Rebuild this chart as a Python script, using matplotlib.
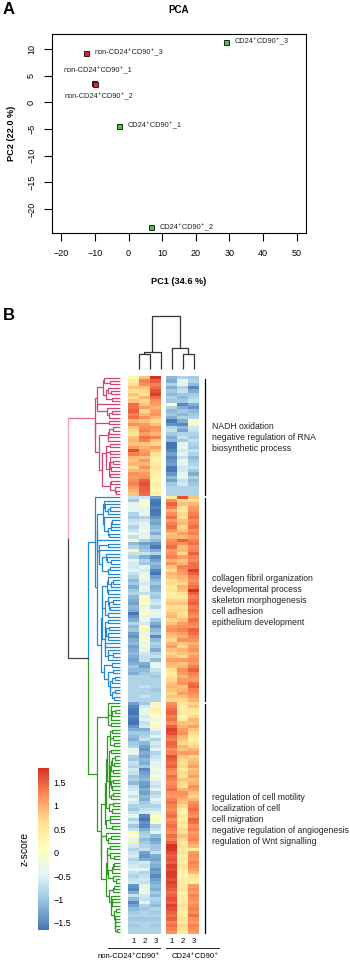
import numpy as np
import matplotlib
matplotlib.use('Agg')
import matplotlib.pyplot as plt
import matplotlib.transforms as mtransforms
from matplotlib.colors import LinearSegmentedColormap
from matplotlib.collections import LineCollection

plt.rcParams['font.family'] = ['Liberation Sans', 'DejaVu Sans']

# ---------------- panel A: PCA ----------------
pca_samples = ['non-CD24⁺CD90⁺_1', 'non-CD24⁺CD90⁺_2', 'non-CD24⁺CD90⁺_3',
               'CD24⁺CD90⁺_1', 'CD24⁺CD90⁺_2', 'CD24⁺CD90⁺_3']
pca_pc1 = [-10.3, -10.1, -12.6, -2.8, 6.7, 29.0]
pca_pc2 = [3.7, 3.4, 9.3, -4.4, -23.4, 11.3]
pca_is_cd24 = [False, False, False, True, True, True]
pca_label_side = ['above', 'below', 'right', 'right', 'right', 'right']
pc1_var = 34.6
pc2_var = 22.0

# ---------------- panel B: heatmap (z-scores, rows top to bottom) ----------------
group_sizes = [36, 62, 70]
group_colors = ['#d6457a', '#1f88d8', '#2e9a22']
group_terms = [
    ['NADH oxidation', 'negative regulation of RNA', 'biosynthetic process'],
    ['collagen fibril organization', 'developmental process', 'skeleton morphogenesis',
     'cell adhesion', 'epithelium development'],
    ['regulation of cell motility', 'localization of cell', 'cell migration',
     'negative regulation of angiogenesis', 'regulation of Wnt signalling'],
]

non_1 = [
    # pink
    0.2, 0.45, 0.6, 0.85, 0.6, 0.85, 0.7, 0.85, 1.4, 1.4, 1.5, 1.3, 1.4, 0.95, 1.2, 0.85, 0.7,
    0.6, 0.85, 0.95, 0.85, 1.1, 1.6, 1.3, 0.95, 0.85, 0.95, 0.7, 0.95, 1.2, 1.1, 1.2, 1.3, 1.1,
    0.95, 0.85,
    # blue
    -0.7, -0.95, -0.45, -0.35, -0.45, -0.85, -0.95, -0.7, -0.6, -0.85, -0.7, -0.45, -0.7, 0.2,
    -1.1, -0.85, 0.2, -0.7, -0.85, -0.45, -0.6,
    -0.6, -0.45, -0.7, -0.85, -1.1, -0.95, -1.2, -0.95, -0.85, -1.1, -1.2, -1.3, -1.1, -1.2,
    -1.7, -1.4, -1.2, -0.85, -1.1, -0.95, -1.3, -1.4, -1.2, -1.1, -1.3, -1.2, -1.1, -1.2,
    -1.3, -1.2, -0.95, -1.1, -1.2, -0.85, -0.85, -0.85, -0.85, -0.85, -0.85, -0.85, -0.85,
    # green
    -1.3, -1.5, -1.6, -1.7, -1.5, -1.6, -1.7, -1.4, -1.2, -0.95, -1.1, -1.2, -0.95, -0.85,
    -0.45, -0.35,
    -0.85, -0.95, -0.7, -0.85, -0.6, -0.7, -0.95, -0.85, -1.1, -0.7, -0.6, -0.45, -0.7, -0.35,
    -0.6, -0.85, -0.95, -0.7, -0.45, -0.85, -0.6, -0.95, -0.7, 0.2, 0.0, -0.45, 0.35, -0.6,
    -0.85, -0.7, -0.6, -0.85, -0.7, -0.6, -0.45, -0.7, -0.85, -0.7, -0.6, -1.4, -1.5, -1.2,
    -0.7, -1.1, -1.5, -1.3, -1.1, -0.95, -0.85, -0.95, -0.85, -0.95, -0.85, -0.85,
]
non_2 = [
    0.85, 1.3, 1.2, 0.85, 0.7, 0.6, 0.95, 0.7, 0.85, 1.1, 0.7, 0.95, 1.2, 0.85, 1.1, 1.2, 1.3,
    1.1, 1.4, 1.3, 0.85, 0.95, 1.1, 1.2, 0.85, 1.1, 0.95, 1.2, 0.95, 1.1, 1.2, 1.5, 1.6, 1.5,
    1.5, 1.4,
    -0.6, -0.2, 0.0, -0.35, -0.45, -0.35, -0.85, -0.6, -0.35, -0.45, -0.2, -0.45, -0.35, -0.85,
    -1.3, -1.1, -0.95, -0.7, -1.2, -0.85, -0.95,
    -0.45, -0.6, -0.35, -0.2, -0.45, -0.6, -0.35, -0.45, -0.7, 0.0, 0.2, 0.0, -0.35, -0.2, 0.0,
    -0.45, -0.35, -0.6, 0.0, 0.2, -0.35, -0.2, 0.0, -0.45, 0.2, -0.35, -0.6, -0.7,
    -0.7, -1.2, -1.3, -1.1, -0.95, -0.85, -0.85, -0.85, -0.7, -0.85, -0.85, -0.7, -0.85,
    -0.95, -0.6, -0.45, -0.35, -0.6, -0.45, -0.7, -0.6, -1.2, -0.95, -0.85, -0.7, -1.1, -1.3,
    -1.4, -1.2,
    -1.3, -1.1, -1.2, -0.95, -1.5, -1.3, -1.2, -1.1, -1.3, -1.4, -1.2, -1.3, -1.1, -1.2, -0.95,
    -0.85, -0.7, -0.6, -1.5, -1.7, -1.4, -1.5, -1.2, -0.95, -0.85, -1.1, -0.95, -0.85,
    -0.7, -1.3, -1.4, -1.2, -0.6, -0.7, -0.45, -0.85, -0.7, -0.6, -0.7, -0.45, -0.2, -0.35,
    -0.6, -0.7, -0.45, -0.85, -0.95, -0.85, -0.85, -0.95, -0.85, -0.85, -0.85, -0.85,
]
non_3 = [
    1.8, 1.5, 1.3, 1.4, 1.6, 1.7, 1.4, 1.2, 1.1, 0.95, 1.1, 1.2, 0.95, 0.7, 0.85, 1.2, 1.1,
    0.95, 1.3, 0.85, 0.7, 1.1, 0.85, 0.6, 0.45, 0.35, 0.45, 0.6, 0.45, 0.35, 0.35, 0.2, 0.35,
    0.35, 0.2, 0.35,
    -1.3, -1.6, -1.7, -1.5, -1.75, -1.6, -1.4, -1.2, -1.3, -1.1, -0.95, -1.2, -0.85, -1.1, -1.4,
    -1.6, -1.2, -0.85, -1.5, -1.3, -1.1,
    -1.2, -1.5, -1.75, -1.3, -1.1, -0.95, -1.2, -1.1, -0.85, -0.95, -0.7, -0.6, -0.85, -0.45,
    -0.35, -0.45, -0.95, -1.2, -1.4, -1.1, -0.95, -1.5, -1.1, -0.85, -0.95, -1.2, -0.85, -0.7,
    -1.1, -0.45, -0.35, -0.7, -0.85, -0.95, -0.85, -0.85, -0.85, -0.95, -0.85, -0.85, -0.85,
    0.2, -0.2, 0.35, 0.2, 0.0, -0.35, 0.0, 0.2, -0.45, -0.7, -0.45, -0.85, -0.6, -0.7, -0.45,
    -0.85,
    -0.7, -0.6, -0.45, -0.35, -0.2, -0.45, 0.0, -0.35, -0.6, -0.7, -0.45, -0.85, -0.7, -0.45,
    -0.6, -0.85, -0.7, -0.35, 0.0, 0.2, -0.2, -0.85, -0.7, -0.45, -1.1, -1.3, -1.2, -0.95,
    -0.95, -0.7, -1.2, -1.3, -1.1, -1.2, -1.4, -1.3, -1.5, -1.3, -1.2, -1.1, -1.2, -0.95, -1.1,
    -0.85, -0.95, -1.1, -0.85, -0.95, -0.85, -0.95, -0.85, -0.95, -0.85, -0.85,
]
cd24_1 = [
    -1.1, -1.2, -0.85, -1.2, -0.95, -1.1, -0.85, -0.95, 0.0, -0.85, -1.1, -0.95, -1.2, -1.6,
    -1.4, -0.85, -0.7, -0.95, -1.2, -1.1, -1.7, -1.75, -1.5, -1.3, -1.5, -1.4, -1.3, -1.6, -1.6,
    -1.4, -1.1, -1.3, -0.95, -0.85, -0.85, -0.85,
    0.45, 1.2, 1.5, 1.3, 0.95, 1.2, 1.4, 1.1, 1.3, 1.4, 1.2, 0.85, 0.95, 1.2, 1.3, 1.4, 1.1,
    1.2, 1.3, 0.95, 1.2,
    0.85, 0.7, 0.95, 0.85, 0.6, 0.7, 0.45, 0.6, 0.35, 0.45, 0.7, 0.85, 0.6, 0.7, 0.85, 0.95,
    0.7, 0.85, 1.1, 1.2, 0.95, 0.85, 0.7, 0.95, 1.1, 0.85, 0.7, 0.85,
    1.1, 0.95, 0.85, 0.6, 0.45, 0.6, 0.7, 0.85, 0.95, 0.85, 0.7, 0.85, 0.7,
    1.2, 1.3, 1.4, 1.5, 1.3, 1.4, 1.2, 1.5, 1.7, 1.6, 1.4, 1.3, 1.5, 1.4, 1.2, 1.3,
    1.6, 1.5, 1.4, 1.5, 1.3, 1.2, 1.4, 1.3, 1.2, 1.3, 1.4, 1.2, 1.1, 1.3, 1.4, 1.3, 1.2, 1.3,
    1.4, 1.2, 1.3, 1.4, 1.3, 1.2, 1.4, 1.3, 1.5, 1.8,
    1.75, 1.6, 1.5, 1.6, 1.5, 1.7, 1.6, 1.75, 1.7, 1.6, 1.7, 1.6, 1.5, 1.4, 1.5, 1.6, 1.5, 1.7,
    1.6, 1.5, 1.4, 1.5, 1.3, 1.4, 1.3, 1.2,
]
cd24_2 = [
    -0.85, -0.45, -0.35, -0.85, -0.7, -0.95, -1.1, -0.95, -1.5, -1.2, -0.95, -1.1, -0.85, -1.2,
    -1.5, -1.1, -1.3, -0.85, -0.7, -0.95, -0.45, -0.35, -0.6, -0.45, -0.7, -0.2, -0.45, -0.6,
    -0.6, -0.35, -0.45, -0.7, -0.6, -0.85, -0.85, -0.85,
    1.6, 0.7, 0.85, 0.6, 0.45, 0.7, 0.6, 0.85, 0.95, 0.7, 0.85, 1.1, 0.95, 1.5, 1.2, 0.85, 0.95,
    0.7, 1.1, 0.85, 0.95,
    1.3, 1.2, 1.1, 0.95, 0.85, 0.7, 0.95, 0.85, 0.6, 0.45, 0.7, 0.85, 0.6, 0.7, 0.6, 0.7, 0.85,
    1.1, 1.2, 1.3, 1.1, 0.95, 1.2, 0.85, 0.7, 0.95, 0.85, 0.7,
    1.1, 0.85, 0.95, 1.2, 1.1, 0.95, 1.1, 1.2, 0.85, 0.95, 1.1, 0.85, 0.7,
    0.6, 0.45, 0.35, 0.45, 0.2, 0.45, 0.85, 0.95, 1.1, 1.2, 0.95, 0.85, 0.7, 0.95, 0.85, 1.1,
    0.85, 0.7, 0.6, 0.7, 0.45, 0.7, 0.6, 0.85, 0.7, 0.6, 0.95, 1.2, 1.1, 0.95, 0.85, 0.7, 0.35,
    0.2, 0.45, 0.35, 0.6, 0.45, 0.7, 0.6, 0.85, 0.7, 0.45, 0.6,
    0.45, 0.6, 0.35, 0.45, 0.35, 0.6, 0.45, 0.35, 0.2, 0.45, 0.35, 0.45, 0.6, 0.35, 0.45, 0.35,
    0.45, 0.6, 0.45, 0.35, 0.45, 0.6, 0.45, 0.7, 0.6, 0.45,
]
cd24_3 = [
    -0.95, -0.85, -1.1, -1.5, -1.2, -0.95, -0.85, -0.7, -1.2, -1.4, -1.1, -0.95, -0.85, 0.0,
    -0.2, -0.6, -0.7, -0.85, -0.95, -0.7, -0.85, -0.95, -0.7, -0.85, -1.1, -0.95, -0.85, -0.7,
    -0.95, -1.2, -0.85, -1.1, -0.95, -0.85, -0.85, -0.85,
    0.85, 0.6, 0.95, 1.1, 1.2, 1.3, 1.4, 1.2, 1.3, 1.4, 1.2, 1.3, 1.1, 1.3, 1.4, 1.2, 1.3, 1.5,
    1.3, 1.2, 1.4,
    1.4, 1.7, 1.5, 1.3, 1.2, 1.3, 1.4, 1.8, 1.5, 1.3, 1.4, 1.5, 1.3, 1.4, 1.3, 1.2, 1.4, 1.3,
    1.2, 1.5, 1.4, 1.3, 1.2, 0.95, 1.1, 1.2, 0.95, 1.1,
    1.2, 1.1, 1.3, 1.5, 1.3, 1.2, 1.1, 1.4, 1.5, 1.3, 1.2, 1.1, 0.95,
    0.7, 0.85, 0.6, 0.45, 0.7, 0.95, 0.85, 1.1, 0.85, 0.7, 0.45, 0.35, 0.6, 0.7, 0.95, 1.1,
    0.7, 0.85, 0.95, 1.1, 0.85, 0.95, 1.1, 0.85, 0.95, 1.2, 1.1, 0.85, 0.7, 0.95, 1.2, 1.3,
    1.4, 1.3, 1.2, 1.5, 1.4, 1.2, 1.3, 1.1, 1.2, 1.3, 1.1, 0.95,
    0.45, 1.1, 1.2, 1.1, 1.3, 1.2, 1.1, 0.95, 0.6, 0.45, 0.35, 1.1, 1.2, 1.1, 1.3, 1.2, 1.1,
    1.2, 1.3, 1.2, 1.4, 1.2, 1.1, 1.3, 1.2, 1.1,
]
col_numbers = ['1', '2', '3', '1', '2', '3']
col_groups = ['non-CD24⁺CD90⁺', 'CD24⁺CD90⁺']
# column tree: [child a, child b, height], merges numbered from 6
col_links = [[0, 1, 15], [2, 6, 17], [4, 5, 15], [3, 8, 21], [7, 9, 53]]
# row tree heights of the top-level joins
group_top_height = [25, 25, 23]
blue_green_height = 32
root_height = 52

zlim = (-1.65, 1.8)
cbar_ticks = [-1.5, -1, -0.5, 0, 0.5, 1, 1.5]


def chain_tree(block):
    # average-linkage clustering that only joins neighbouring rows, so the order stays as drawn
    members = [[i] for i in range(len(block))]
    ids = list(range(len(block)))
    links = []
    nid = len(block)
    while len(members) > 1:
        dists = []
        for k in range(len(members) - 1):
            a = block[members[k]][:, None, :]
            b = block[members[k + 1]][None, :, :]
            dists.append(np.sqrt(((a - b) ** 2).sum(-1)).mean())
        k = int(np.argmin(dists))
        links.append([ids[k], ids[k + 1], dists[k]])
        members[k] = members[k] + members.pop(k + 1)
        ids[k] = nid
        ids.pop(k + 1)
        nid += 1
    return links


def tree_segments(links, leaf_pos, scale=1.0):
    pos = list(leaf_pos)
    hgt = [0.0] * len(leaf_pos)
    segs = []
    for a, b, d in links:
        h = max(d * scale, hgt[a], hgt[b])
        segs.append([(hgt[a], pos[a]), (h, pos[a]), (h, pos[b]), (hgt[b], pos[b])])
        pos.append((pos[a] + pos[b]) / 2)
        hgt.append(h)
    return segs, pos[-1], hgt[-1]


W, H = 350, 961
fig = plt.figure(figsize=(W / 100, H / 100), dpi=100)


def px_axes(x, y, w, h):
    return fig.add_axes([x / W, 1 - (y + h) / H, w / W, h / H])


# ---- A
ax = px_axes(52, 34, 254, 199)
for i in range(len(pca_samples)):
    face = '#3ccb3c' if pca_is_cd24[i] else '#e8202a'
    ax.plot(pca_pc1[i], pca_pc2[i], 's', ms=3.6, mfc=face, mec='#222222', mew=0.7)
    side = pca_label_side[i]
    if side == 'right':
        off, ha, va = (6, 0), 'left', 'center'
    elif side == 'above':
        off, ha, va = (3, 6), 'center', 'bottom'
    else:
        off, ha, va = (3, -6), 'center', 'top'
    ax.annotate(pca_samples[i], (pca_pc1[i], pca_pc2[i]), xytext=off, textcoords='offset points',
                ha=ha, va=va, fontsize=5.3, color='#222222')
ax.set_xlim(-22.8, 52.8)
ax.set_ylim(-24.5, 12.8)
ax.set_xticks(np.arange(-20, 51, 10))
ax.set_yticks(np.arange(-20, 11, 5))
ax.tick_params(length=5.5, width=0.8, labelsize=6.5, pad=6)
for lab in ax.get_yticklabels():
    lab.set_rotation(90)
    lab.set_va('center')
for s in ax.spines.values():
    s.set_linewidth(0.8)
ax.set_xlabel(f'PC1 ({pc1_var} %)', fontsize=6.6, fontweight='bold', labelpad=14)
ax.set_ylabel(f'PC2 ({pc2_var} %)', fontsize=6.6, fontweight='bold', labelpad=8)
ax.set_title('PCA', fontsize=7, fontweight='bold', pad=15)
fig.text(3 / W, 1 - 9 / H, 'A', fontsize=12, fontweight='bold', va='center')
fig.text(3 / W, 1 - 316 / H, 'B', fontsize=12, fontweight='bold', va='center')

# ---- B heatmap
z = np.array([non_1, non_2, non_3, cd24_1, cd24_2, cd24_3]).T
n_rows = len(z)
assert n_rows == sum(group_sizes)
cmap = LinearSegmentedColormap.from_list(
    'rdylbu7', ['#4575b4', '#91bfdb', '#e0f3f8', '#ffffbf', '#fee090', '#fc8d59', '#d73027'])

hx = px_axes(128, 376, 71, 558)
y_edges = np.arange(n_rows + 1)
mesh = hx.pcolormesh([0, 1, 2, 3], y_edges, z[:, :3], cmap=cmap, vmin=zlim[0], vmax=zlim[1])
hx.pcolormesh([3.45, 4.45, 5.45, 6.45], y_edges, z[:, 3:], cmap=cmap, vmin=zlim[0], vmax=zlim[1])
hx.set_xlim(0, 6.45)
hx.set_ylim(n_rows, 0)
for s in hx.spines.values():
    s.set_visible(False)
hx.set_yticks([])
hx.set_xticks([0.5, 1.5, 2.5, 3.95, 4.95, 5.95])
hx.set_xticklabels(col_numbers, fontsize=5.5)
hx.tick_params(axis='x', length=0, pad=3)

trans = mtransforms.blended_transform_factory(hx.transData, hx.transAxes)
for (x0, x1), name in zip([(-1.82, 2.91), (3.45, 8.27)], col_groups):
    hx.plot([x0, x1], [-0.025, -0.025], color='#222222', lw=0.7, transform=trans, clip_on=False)
    hx.text(x1, -0.041, name, transform=trans, ha='right', va='center', fontsize=5.5)

# group bars and GO terms
start = 0
for size, terms in zip(group_sizes, group_terms):
    hx.plot([7.0, 7.0], [start + 0.8, start + size - 0.2], color='black', lw=0.9, clip_on=False)
    hx.text(7.64, start + size / 2 + 0.6, '\n'.join(terms), ha='left', va='center',
            fontsize=6.2, linespacing=1.28, color='#222222', clip_on=False)
    start += size

# ---- row dendrogram
dx = px_axes(58, 376, 66, 558)
dx.set_xlim(62, -4)
dx.set_ylim(n_rows, 0)
dx.axis('off')
roots = []
start = 0
for g, size in enumerate(group_sizes):
    block = z[start:start + size]
    links = chain_tree(block)
    scale = group_top_height[g] / max(l[2] for l in links)
    segs, rpos, rh = tree_segments(links, [start + i + 0.5 for i in range(size)], scale)
    dx.add_collection(LineCollection(segs, colors=group_colors[g], linewidths=0.9))
    roots.append((rpos, rh))
    start += size

(p_pos, p_h), (b_pos, b_h), (g_pos, g_h) = roots
bg_pos = (b_pos + g_pos) / 2
root_pos = (p_pos + bg_pos) / 2
pink, blue, green = group_colors
dx.plot([b_h, blue_green_height, blue_green_height], [b_pos, b_pos, bg_pos], color=blue, lw=0.9)
dx.plot([g_h, blue_green_height, blue_green_height], [g_pos, g_pos, bg_pos], color=green, lw=0.9)
dx.plot([blue_green_height, root_height, root_height], [bg_pos, bg_pos, root_pos],
        color='#444444', lw=0.9)
dx.plot([p_h, root_height], [p_pos, p_pos], color=pink, lw=0.9, alpha=0.8)
dx.plot([root_height, root_height], [p_pos, root_pos], color='#eea3bb', lw=0.9)

# ---- column dendrogram
cx = px_axes(133, 312, 66, 59)
cx.set_xlim(0, 6)
cx.set_ylim(-2, 57)
cx.axis('off')
csegs, _, _ = tree_segments(col_links, [i + 0.5 for i in range(6)])
csegs = [[(p, h) for h, p in seg] for seg in csegs]
cx.add_collection(LineCollection(csegs, colors='#333333', linewidths=0.9))

# ---- colour key
cax = px_axes(38, 768, 11, 162)
cb = fig.colorbar(mesh, cax=cax, ticks=cbar_ticks)
cb.outline.set_visible(False)
cb.ax.set_yticklabels([f'{t:g}'.replace('-', '−') for t in cbar_ticks])
cb.ax.tick_params(length=0, labelsize=6.5, pad=3)
cb.ax.yaxis.set_label_position('left')
cb.ax.set_ylabel('z-score', fontsize=7.5, labelpad=6)

fig.savefig('out.png', dpi=100)
